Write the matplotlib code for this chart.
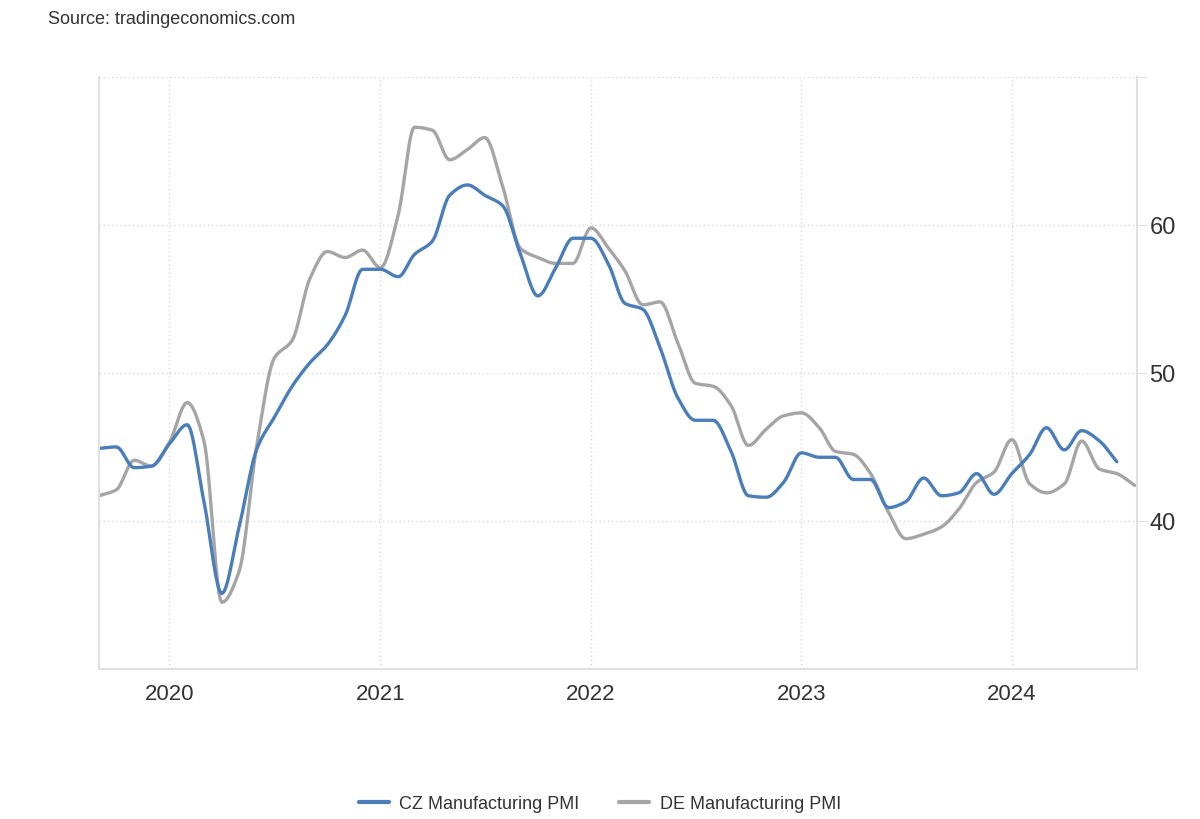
import matplotlib.pyplot as plt
import matplotlib.dates as mdates
import numpy as np
import pandas as pd

plt.rcParams['font.family'] = ['Liberation Sans', 'DejaVu Sans']

# Monthly PMI readings, Sep 2019 .. Aug 2024
dates_cz = pd.date_range("2019-09-01", "2024-07-01", freq="MS")
dates_de = pd.date_range("2019-09-01", "2024-08-01", freq="MS")

cz_pmi = [
    44.9, 45.0, 43.6, 43.7,
    45.2, 46.5, 41.3, 35.1, 39.6, 44.9, 47.0, 49.1, 50.7, 51.9, 53.9, 57.0,
    57.0, 56.5, 58.0, 58.9, 62.0, 62.7, 62.0, 61.3, 58.0, 55.2, 57.1, 59.1,
    59.1, 57.3, 54.7, 54.3, 51.7, 48.3, 46.8, 46.8, 44.7, 41.7, 41.6, 42.6,
    44.6, 44.3, 44.3, 42.8, 42.8, 40.9, 41.3, 42.9, 41.7, 41.9, 43.2, 41.8,
    43.2, 44.5, 46.3, 44.8, 46.1, 45.4, 44.0,
]
de_pmi = [
    41.7, 42.1, 44.1, 43.7,
    45.3, 48.0, 45.4, 34.5, 36.6, 45.2, 51.0, 52.2, 56.4, 58.2, 57.8, 58.3,
    57.1, 60.7, 66.6, 66.4, 64.4, 65.1, 65.9, 62.6, 58.4, 57.8, 57.4, 57.4,
    59.8, 58.4, 56.9, 54.6, 54.8, 52.0, 49.3, 49.1, 47.8, 45.1, 46.2, 47.1,
    47.3, 46.3, 44.7, 44.5, 43.2, 40.6, 38.8, 39.1, 39.6, 40.8, 42.6, 43.3,
    45.5, 42.5, 41.9, 42.5, 45.4, 43.5, 43.2, 42.4,
]

year_ticks = ["2020", "2021", "2022", "2023", "2024"]
y_ticks = [40, 50, 60]


def smooth(dates, values, n=12):
    # monotone cubic (Fritsch-Carlson) through the monthly points, for drawing only
    x = mdates.date2num(dates)
    y = np.asarray(values, dtype=float)
    h = np.diff(x)
    d = np.diff(y) / h
    m = np.zeros_like(y)
    m[0], m[-1] = d[0], d[-1]
    for i in range(1, len(y) - 1):
        if d[i - 1] * d[i] > 0:
            w1 = 2 * h[i] + h[i - 1]
            w2 = h[i] + 2 * h[i - 1]
            m[i] = (w1 + w2) / (w1 / d[i - 1] + w2 / d[i])
    xs, ys = [], []
    for i in range(len(y) - 1):
        t = np.linspace(0, 1, n, endpoint=False)
        h00 = 2 * t**3 - 3 * t**2 + 1
        h10 = t**3 - 2 * t**2 + t
        h01 = -2 * t**3 + 3 * t**2
        h11 = t**3 - t**2
        xs.append(x[i] + t * h[i])
        ys.append(h00 * y[i] + h10 * h[i] * m[i] + h01 * y[i + 1] + h11 * h[i] * m[i + 1])
    xs.append([x[-1]])
    ys.append([y[-1]])
    return np.concatenate(xs), np.concatenate(ys)


fig = plt.figure(figsize=(12, 8.2), dpi=100)
ax = fig.add_axes([0.0825, 0.183, 0.865, 0.722])

xc, yc = smooth(dates_cz, cz_pmi)
xd, yd = smooth(dates_de, de_pmi)
ax.plot(xd, yd, color='#a5a5a5', lw=2.4, label='DE Manufacturing PMI', solid_capstyle='round')
ax.plot(xc, yc, color='#4a7ebb', lw=2.4, label='CZ Manufacturing PMI', solid_capstyle='round')

ax.set_xlim(mdates.date2num(pd.Timestamp("2019-09-01")), mdates.date2num(pd.Timestamp("2024-08-05")))
ax.set_ylim(30, 70)

ax.set_xticks([mdates.date2num(pd.Timestamp(f"{y}-01-01")) for y in year_ticks])
ax.set_xticklabels(year_ticks)
ax.set_yticks(y_ticks + [70])
ax.set_yticklabels([str(v) for v in y_ticks] + [""])
ax.yaxis.tick_right()

ax.grid(True, color='#d9d9d9', linestyle=(0, (1, 2)), linewidth=1.0)
ax.set_axisbelow(True)
ax.tick_params(axis='x', length=0, labelsize=16, labelcolor='#333333', pad=10)
ax.tick_params(axis='y', length=7, color='#e0e0e0', labelsize=17, labelcolor='#333333', pad=2)

ax.spines['top'].set_visible(False)
for s in ['left', 'right', 'bottom']:
    ax.spines[s].set_color('#e0e0e0')
    ax.spines[s].set_linewidth(1.5)

fig.text(0.04, 0.987, "Source: tradingeconomics.com", fontsize=13, color='#333333', va='top')

handles, labels = ax.get_legend_handles_labels()
leg = fig.legend(handles[::-1], labels[::-1], loc='center', bbox_to_anchor=(0.5, 0.019),
                 ncol=2, frameon=False, fontsize=13, handlelength=1.65, columnspacing=2.2,
                 handletextpad=0.6)
for t in leg.get_texts():
    t.set_color('#333333')
for l in leg.get_lines():
    l.set_linewidth(3)

fig.savefig("out.png", dpi=100)
